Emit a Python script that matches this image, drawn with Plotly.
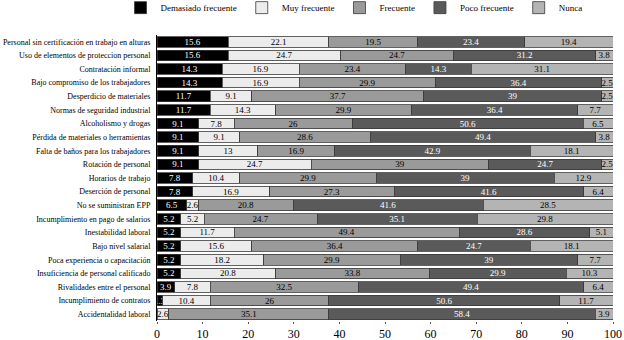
import plotly.graph_objects as go

categories = [
    "Personal sin certificación en trabajo en alturas",
    "Uso de elementos de proteccion personal",
    "Contratación informal",
    "Bajo compromiso de los trabajadores",
    "Desperdicio de materiales",
    "Normas de seguridad industrial",
    "Alcoholismo y drogas",
    "Pérdida de materiales o herramientas",
    "Falta de baños para los trabajadores",
    "Rotación de personal",
    "Horarios de trabajo",
    "Deserción de personal",
    "No se suministran EPP",
    "Incumplimiento en pago de salarios",
    "Inestabilidad laboral",
    "Bajo nivel salarial",
    "Poca experiencia o capacitación",
    "Insuficiencia de personal calificado",
    "Rivalidades entre el personal",
    "Incumplimiento de contratos",
    "Accidentalidad laboral",
]

demasiado = [15.6, 15.6, 14.3, 14.3, 11.7, 11.7, 9.1, 9.1, 9.1, 9.1, 7.8, 7.8, 6.5, 5.2, 5.2, 5.2, 5.2, 5.2, 3.9, 1.3, 0]
muy = [22.1, 24.7, 16.9, 16.9, 9.1, 14.3, 7.8, 9.1, 13, 24.7, 10.4, 16.9, 2.6, 5.2, 11.7, 15.6, 18.2, 20.8, 7.8, 10.4, 2.6]
frecuente = [19.5, 24.7, 23.4, 29.9, 37.7, 29.9, 26, 28.6, 16.9, 39, 29.9, 27.3, 20.8, 24.7, 49.4, 36.4, 29.9, 33.8, 32.5, 26, 35.1]
poco = [23.4, 31.2, 14.3, 36.4, 39, 36.4, 50.6, 49.4, 42.9, 24.7, 39, 41.6, 41.6, 35.1, 28.6, 24.7, 39, 29.9, 49.4, 50.6, 58.4]
nunca = [19.4, 3.8, 31.1, 2.5, 2.5, 7.7, 6.5, 3.8, 18.1, 2.5, 12.9, 6.4, 28.5, 29.8, 5.1, 18.1, 7.7, 10.3, 6.4, 11.7, 3.9]

series_names = ["Demasiado frecuente", "Muy frecuente", "Frecuente", "Poco frecuente", "Nunca"]
series_values = [demasiado, muy, frecuente, poco, nunca]
colors = ["#000000", "#ececec", "#9a9a9a", "#5a5a5a", "#b4b4b4"]
text_colors = ["#ffffff", "#000000", "#000000", "#ffffff", "#000000"]

FONT = "Liberation Serif"

fig = go.Figure()
for name, vals, col, tcol in zip(series_names, series_values, colors, text_colors):
    labels = [("%g" % v) if v > 0 else "" for v in vals]
    fig.add_trace(go.Bar(
        name=name,
        y=categories,
        x=vals,
        orientation="h",
        marker=dict(color=col, line=dict(color="#3a3a3a", width=0.8)),
        text=labels,
        textposition="inside",
        insidetextanchor="middle",
        textangle=0,
        constraintext="none",
        textfont=dict(family=FONT, size=9, color=tcol),
        hoverinfo="skip",
    ))

fig.update_layout(
    barmode="stack",
    bargap=0.22,
    width=624,
    height=340,
    margin=dict(l=157, r=11, t=35, b=19, autoexpand=False),
    paper_bgcolor="white",
    plot_bgcolor="white",
    font=dict(family=FONT, color="#000000"),
    uniformtext=dict(minsize=9, mode="show"),
    showlegend=True,
    legend=dict(
        orientation="h",
        traceorder="normal",
        xref="paper", yref="paper",
        x=-0.08, y=1.045, xanchor="left", yanchor="bottom",
        font=dict(family=FONT, size=9),
        itemwidth=30,
        tracegroupgap=0,
        bgcolor="rgba(0,0,0,0)",
    ),
    xaxis=dict(
        range=[0, 100],
        tickvals=list(range(0, 101, 10)),
        showgrid=False,
        zeroline=False,
        showline=False,
        ticks="outside",
        ticklen=2,
        tickcolor="#555",
        tickfont=dict(family=FONT, size=12, color="#000"),
        automargin=False,
    ),
    yaxis=dict(
        categoryorder="array",
        categoryarray=categories,
        autorange="reversed",
        showgrid=False,
        showline=True,
        linecolor="#000",
        linewidth=1,
        ticks="",
        tickfont=dict(family=FONT, size=8, color="#000"),
        ticklabelstandoff=4,
        automargin=False,
    ),
)

fig.write_html(
    "out.html",
    config={"displayModeBar": False},
    post_script="document.body.style.margin='0';",
)
